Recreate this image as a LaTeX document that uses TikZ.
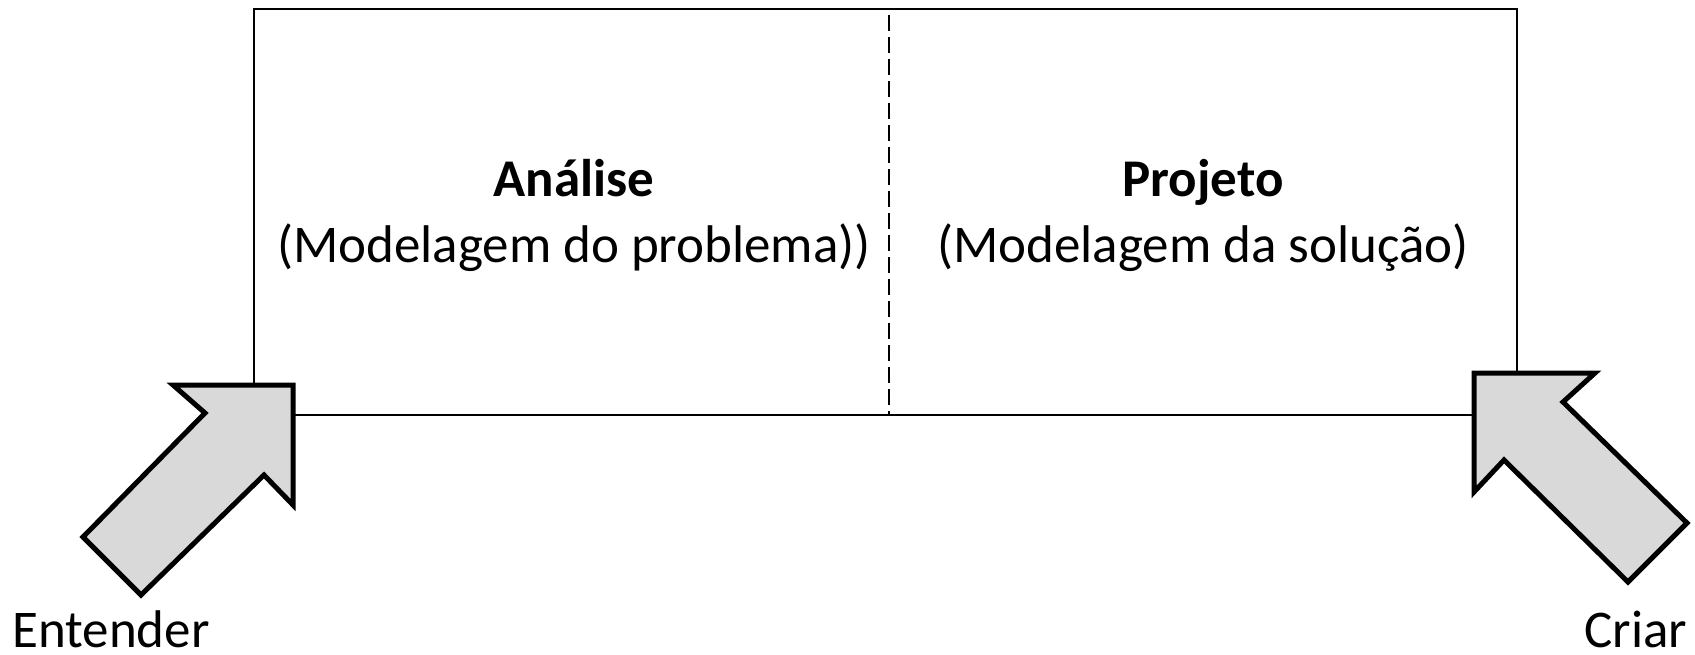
\documentclass[tikz,border=0pt]{standalone}
\usepackage{fontspec}
\setmainfont{Carlito}
\begin{document}
\begin{tikzpicture}[x=1pt,y=-1pt,
  txt/.style={inner sep=0pt,anchor=base,font=\fontsize{53}{58}\selectfont},
  ttl/.style={txt,font=\fontsize{53}{58}\selectfont\bfseries},
  frame/.style={line width=1.8pt,line join=miter},
  divider/.style={line width=2pt,dash pattern=on 16pt off 6pt},
  bigarrow/.style={draw=black,fill=black!15,line width=5pt,line join=miter}]
  \useasboundingbox (0,0) rectangle (1695,654);

  % outer frame of the two phases
  \coordinate (tl) at (254,9);
  \coordinate (br) at (1517,415);
  \draw[frame] (tl) rectangle (br);

  % dashed boundary between the phases
  \coordinate (dtop) at (889,15);
  \coordinate (dbot) at (889,414);
  \draw[divider] (dtop) -- (dbot);

  % phase labels
  \node[ttl] (analise) at (574,196) {Análise};
  \node[txt] (analisesub) at (574,262) {(Modelagem do problema))};
  \node[ttl] (projeto) at (1203,196) {Projeto};
  \node[txt] (projetosub) at (1203,262) {(Modelagem da solução)};

  % block arrow into the lower left corner
  \draw[bigarrow] (173,385) -- (205,413) -- (83,537) -- (141,595)
    -- (264,475) -- (293,505) -- (293,385) -- cycle;
  % block arrow out of the lower right corner
  \draw[bigarrow] (1474,373) -- (1595,373) -- (1563,402) -- (1687,523)
    -- (1628,582) -- (1504,460) -- (1474,492) -- cycle;

  \node[txt] (entender) at (111,647) {Entender};
  \node[txt] (criar) at (1636,647) {Criar};
\end{tikzpicture}
\end{document}
